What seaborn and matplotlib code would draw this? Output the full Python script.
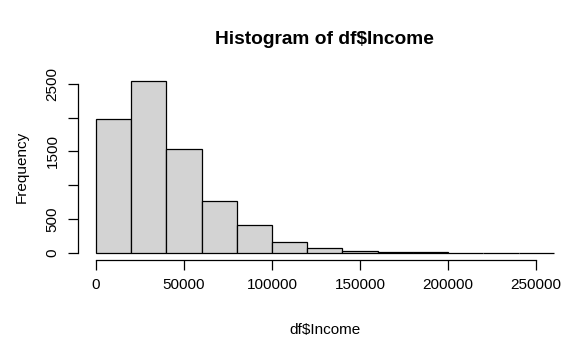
import numpy as np
import seaborn as sns
import matplotlib.pyplot as plt

# histogram bins (width 20000)
bin_edges = [0, 20000, 40000, 60000, 80000, 100000, 120000, 140000,
             160000, 180000, 200000, 220000, 240000, 260000]
counts = [1975, 2536, 1531, 763, 414, 158, 69, 36, 15, 10, 1, 0, 1]
x_ticks = [0, 50000, 100000, 150000, 200000, 250000]
y_ticks = [0, 500, 1000, 1500, 2000, 2500]
y_labels = ["0", "500", "", "1500", "", "2500"]

sns.set_style("white")
plt.rcParams['font.family'] = ['Liberation Sans', 'DejaVu Sans']
plt.rcParams['text.color'] = 'black'
plt.rcParams['axes.labelcolor'] = 'black'

fig = plt.figure(figsize=(5.79, 3.51), dpi=100)
ax = fig.add_axes([0.134, 0.2595, 0.854, 0.5285])

centers = (np.array(bin_edges[:-1]) + np.array(bin_edges[1:])) / 2
sns.histplot(x=centers, weights=counts, bins=bin_edges, ax=ax,
             color="#D3D3D3", edgecolor="black", linewidth=0.9, alpha=1)

ax.set_xlim(-10400, 270400)
ax.set_ylim(-101, 2637)
for s in ["top", "right"]:
    ax.spines[s].set_visible(False)
ax.spines["left"].set_bounds(0, 2500)
ax.spines["bottom"].set_bounds(0, 250000)
for s in ["left", "bottom"]:
    ax.spines[s].set_color("black")
    ax.spines[s].set_linewidth(0.9)

ax.set_xticks(x_ticks)
ax.set_xticklabels([str(t) for t in x_ticks])
ax.set_yticks(y_ticks)
ax.set_yticklabels(y_labels, rotation=90, va="center")
ax.tick_params(axis="both", direction="out", length=7, width=0.9,
               colors="black", labelsize=11, pad=6, bottom=True, left=True)

ax.set_xlabel(r"df\$Income", fontsize=11, labelpad=22, color="black")
ax.set_ylabel("Frequency", fontsize=11, labelpad=12, color="black")
ax.set_title(r"Histogram of df\$Income", fontsize=13.8, fontweight="bold",
             pad=22, color="black")

fig.savefig("out.png", dpi=100)
